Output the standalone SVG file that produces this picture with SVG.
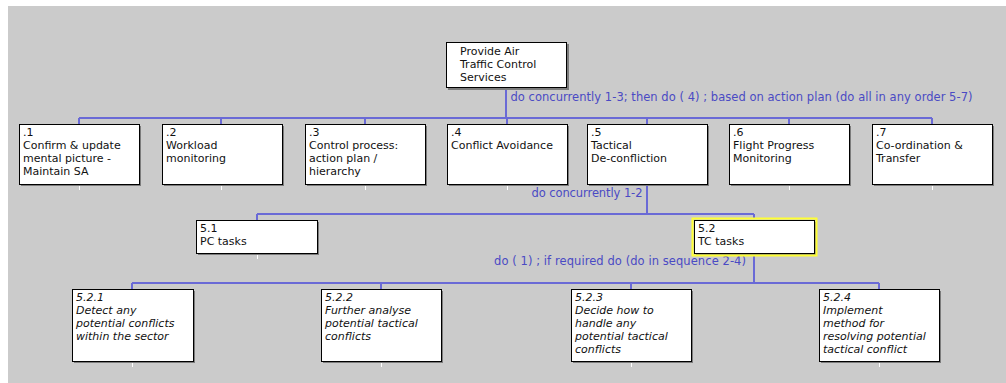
<svg xmlns="http://www.w3.org/2000/svg" width="1006" height="383" viewBox="0 0 1006 383">
  <style>
    .bg { fill: #cbcbcb; }
    .shadow { fill: #7c7c7c; }
    .box { fill: #ffffff; stroke: #000000; stroke-width: 1; }
    .sel { fill: none; stroke: #ffff33; stroke-width: 2; }
    .tick { stroke: #ffffff; stroke-width: 1; }
    .t { font-family: "DejaVu Sans", Verdana, sans-serif; font-size: 11px; fill: #111111; }
    .i { font-style: italic; }
    .wire { fill: none; stroke: #6a6ad6; stroke-width: 2; }
    .plan { font-family: "DejaVu Sans", Verdana, sans-serif; font-size: 11.5px; fill: #4a4ac4; }
  </style>

  <rect class="bg" x="8" y="6" width="998" height="377"/>

  <!-- hierarchy connectors and plan labels -->
  <g id="connectors">
    <path class="wire" d="M506,88 V118 M79,118 H932 M79,118 V124 M221,118 V124 M365,118 V124 M507,118 V124 M647,118 V124 M789,118 V124 M932,118 V124"/>
    <path class="wire" d="M647,184 V214 M257,214 H754 M257,214 V220 M754,214 V218"/>
    <path class="wire" d="M754,255 V283 M132,283 H879 M132,283 V289 M381,283 V289 M631,283 V289 M879,283 V289"/>
    <text class="plan" x="510.5" y="101" textLength="462" lengthAdjust="spacing">do concurrently 1-3; then do ( 4) ; based on action plan (do all in any order 5-7)</text>
    <text class="plan" x="531.5" y="197" textLength="111" lengthAdjust="spacing">do concurrently 1-2</text>
    <text class="plan" x="494" y="265" textLength="252" lengthAdjust="spacing">do ( 1) ; if required do (do in sequence 2-4)</text>
  </g>

  <g id="n0">
    <rect class="shadow" x="448" y="44" width="121" height="46"/>
    <rect class="box" x="446.5" y="42.5" width="120" height="45"/>
    <text class="t" x="460" y="55">Provide Air</text>
    <text class="t" x="460" y="68">Traffic Control</text>
    <text class="t" x="460" y="81">Services</text>
  </g>

  <g id="n1">
    <rect class="shadow" x="21" y="126" width="120" height="60"/>
    <rect class="box" x="19.5" y="124.5" width="120" height="60"/>
    <line class="tick" x1="79.5" y1="186" x2="79.5" y2="190"/>
    <text class="t" x="23" y="136">.1</text>
    <text class="t" x="23" y="149">Confirm &amp; update</text>
    <text class="t" x="23" y="162">mental picture -</text>
    <text class="t" x="23" y="175">Maintain SA</text>
  </g>

  <g id="n2">
    <rect class="shadow" x="164" y="126" width="120" height="60"/>
    <rect class="box" x="162.5" y="124.5" width="120" height="60"/>
    <line class="tick" x1="221.5" y1="186" x2="221.5" y2="190"/>
    <text class="t" x="166" y="136">.2</text>
    <text class="t" x="166" y="149">Workload</text>
    <text class="t" x="166" y="162">monitoring</text>
  </g>

  <g id="n3">
    <rect class="shadow" x="307" y="126" width="120" height="60"/>
    <rect class="box" x="305.5" y="124.5" width="120" height="60"/>
    <line class="tick" x1="365.5" y1="186" x2="365.5" y2="190"/>
    <text class="t" x="309" y="136">.3</text>
    <text class="t" x="309" y="149">Control process:</text>
    <text class="t" x="309" y="162">action plan /</text>
    <text class="t" x="309" y="175">hierarchy</text>
  </g>

  <g id="n4">
    <rect class="shadow" x="449" y="126" width="120" height="60"/>
    <rect class="box" x="447.5" y="124.5" width="120" height="60"/>
    <line class="tick" x1="507.5" y1="186" x2="507.5" y2="190"/>
    <text class="t" x="451" y="136">.4</text>
    <text class="t" x="451" y="149">Conflict Avoidance</text>
  </g>

  <g id="n5">
    <rect class="shadow" x="589" y="126" width="120" height="60"/>
    <rect class="box" x="587.5" y="124.5" width="120" height="60"/>
    <text class="t" x="591" y="136">.5</text>
    <text class="t" x="591" y="149">Tactical</text>
    <text class="t" x="591" y="162">De-confliction</text>
  </g>

  <g id="n6">
    <rect class="shadow" x="731" y="126" width="120" height="60"/>
    <rect class="box" x="729.5" y="124.5" width="120" height="60"/>
    <line class="tick" x1="789.5" y1="186" x2="789.5" y2="190"/>
    <text class="t" x="733" y="136">.6</text>
    <text class="t" x="733" y="149">Flight Progress</text>
    <text class="t" x="733" y="162">Monitoring</text>
  </g>

  <g id="n7">
    <rect class="shadow" x="874" y="126" width="120" height="60"/>
    <rect class="box" x="872.5" y="124.5" width="120" height="60"/>
    <line class="tick" x1="932.5" y1="186" x2="932.5" y2="190"/>
    <text class="t" x="876" y="136">.7</text>
    <text class="t" x="876" y="149">Co-ordination &amp;</text>
    <text class="t" x="876" y="162">Transfer</text>
  </g>

  <g id="n5-1">
    <rect class="shadow" x="198" y="222" width="121" height="33"/>
    <rect class="box" x="196.5" y="220.5" width="121" height="33"/>
    <line class="tick" x1="257.5" y1="255" x2="257.5" y2="259"/>
    <text class="t" x="200" y="232">5.1</text>
    <text class="t" x="200" y="245">PC tasks</text>
  </g>

  <g id="n5-2">
    <rect class="shadow" x="696" y="222" width="121" height="33"/>
    <rect class="box" x="694.5" y="220.5" width="120" height="33"/>
    <rect class="sel" x="692.5" y="218.5" width="124" height="37"/>
    <text class="t" x="698" y="232">5.2</text>
    <text class="t" x="698" y="245">TC tasks</text>
  </g>

  <g id="n5-2-1">
    <rect class="shadow" x="74" y="291" width="121" height="72"/>
    <rect class="box" x="72.5" y="289.5" width="121" height="72"/>
    <line class="tick" x1="132.5" y1="363" x2="132.5" y2="367"/>
    <text class="t i" x="76" y="301">5.2.1</text>
    <text class="t i" x="76" y="314">Detect any</text>
    <text class="t i" x="76" y="327">potential conflicts</text>
    <text class="t i" x="76" y="340">within the sector</text>
  </g>

  <g id="n5-2-2">
    <rect class="shadow" x="323" y="291" width="120" height="72"/>
    <rect class="box" x="321.5" y="289.5" width="120" height="72"/>
    <line class="tick" x1="381.5" y1="363" x2="381.5" y2="367"/>
    <text class="t i" x="325" y="301">5.2.2</text>
    <text class="t i" x="325" y="314">Further analyse</text>
    <text class="t i" x="325" y="327">potential tactical</text>
    <text class="t i" x="325" y="340">conflicts</text>
  </g>

  <g id="n5-2-3">
    <rect class="shadow" x="573" y="291" width="120" height="72"/>
    <rect class="box" x="571.5" y="289.5" width="120" height="72"/>
    <line class="tick" x1="631.5" y1="363" x2="631.5" y2="367"/>
    <text class="t i" x="575" y="301">5.2.3</text>
    <text class="t i" x="575" y="314">Decide how to</text>
    <text class="t i" x="575" y="327">handle any</text>
    <text class="t i" x="575" y="340">potential tactical</text>
    <text class="t i" x="575" y="353">conflicts</text>
  </g>

  <g id="n5-2-4">
    <rect class="shadow" x="821" y="291" width="120" height="72"/>
    <rect class="box" x="819.5" y="289.5" width="120" height="72"/>
    <line class="tick" x1="879.5" y1="363" x2="879.5" y2="367"/>
    <text class="t i" x="823" y="301">5.2.4</text>
    <text class="t i" x="823" y="314">Implement</text>
    <text class="t i" x="823" y="327">method for</text>
    <text class="t i" x="823" y="340">resolving potential</text>
    <text class="t i" x="823" y="353">tactical conflict</text>
  </g>
</svg>
